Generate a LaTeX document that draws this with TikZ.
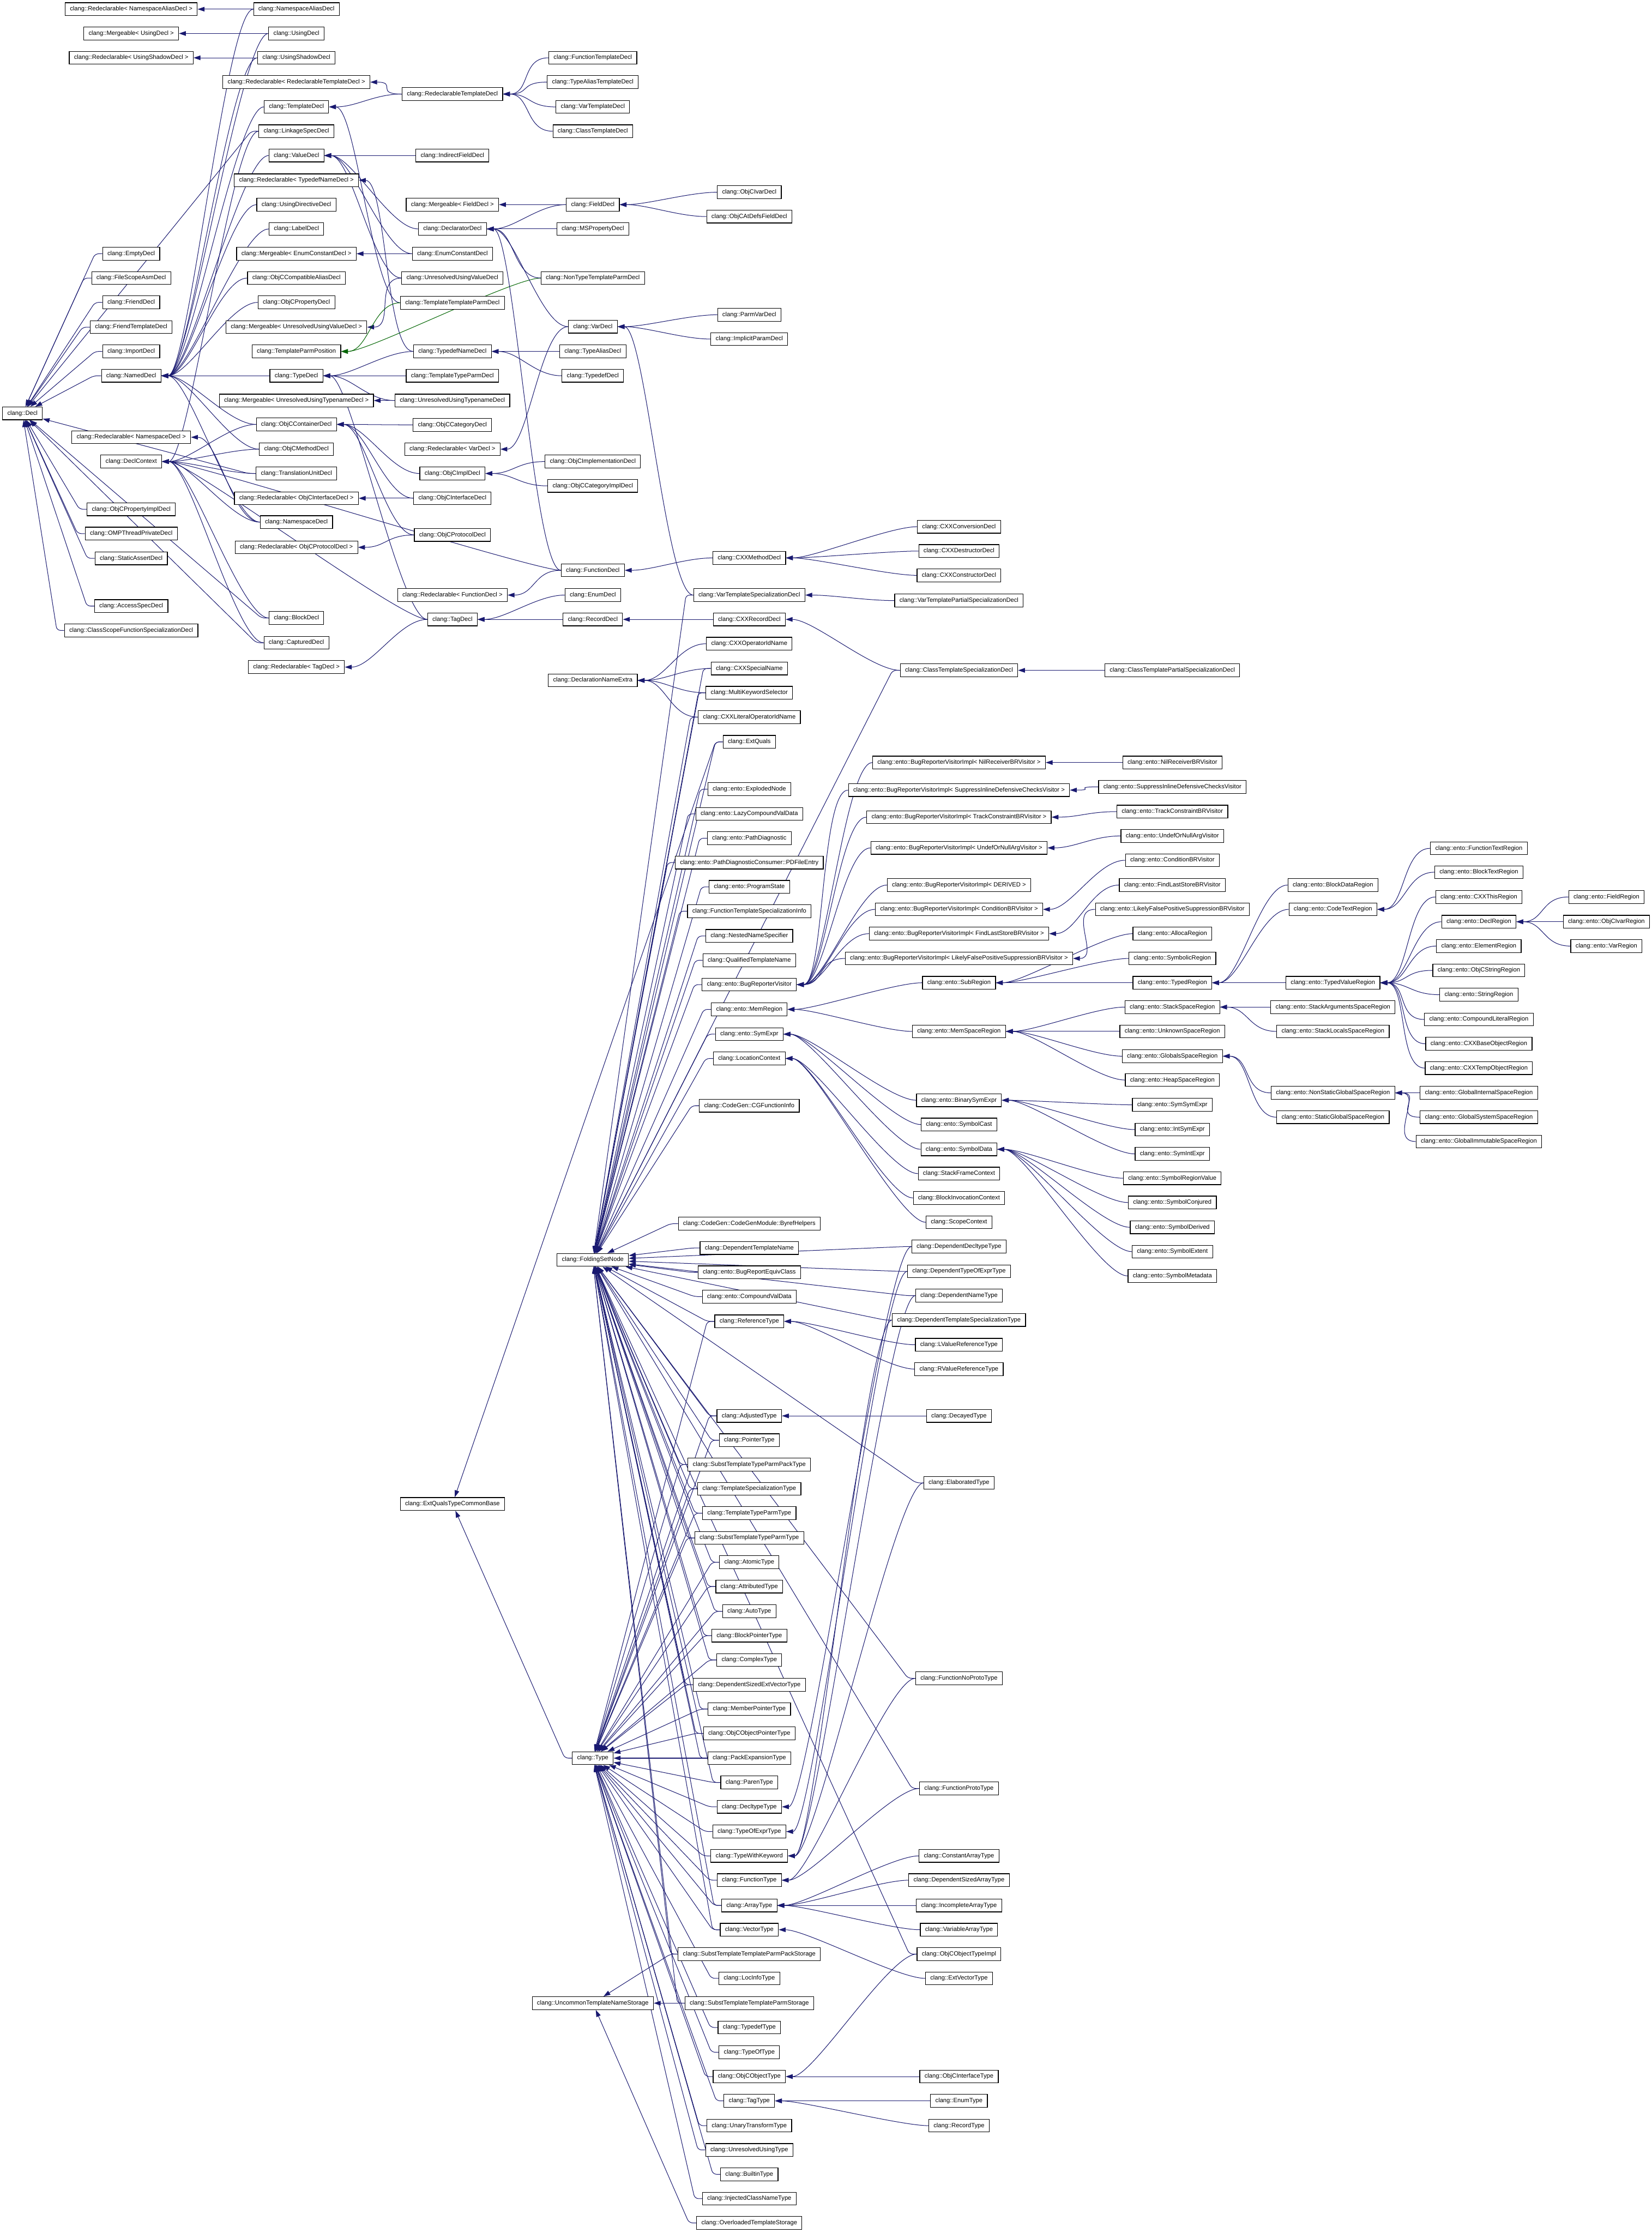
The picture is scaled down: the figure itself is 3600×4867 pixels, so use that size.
\documentclass[tikz,border=0pt]{standalone}
\usepackage{fontspec}
\setmainfont{Liberation Sans}
\usetikzlibrary{arrows.meta}
\definecolor{edgeblue}{HTML}{191970}
\definecolor{edgegreen}{HTML}{006400}
\pgfdeclarelayer{back}
\pgfsetlayers{back,main}
\tikzset{
  cls/.style={draw=black,fill=white,line width=1.4pt,minimum height=28pt,
    inner xsep=10.5pt,inner ysep=0pt,font=\fontsize{13.3}{16}\selectfont},
  inh/.style={draw=edgeblue,line width=1.2pt,-{Triangle[length=15pt,width=10pt]},
    to path={.. controls +(-60,0) and +(60,0) .. (\tikztotarget)}},
  hub/.style={inh,rounded corners=8pt,to path={-- ++(-16,0) -- (\tikztotarget)}},
  inhprot/.style={inh,draw=edgegreen},
}
\begin{document}
\begin{tikzpicture}[x=1pt,y=-1pt]
  \useasboundingbox (0,0) rectangle (3600,4867);
  % column A / B
  \node[cls] (Decl) at (49,901) {clang::Decl};
  \node[cls] (RdNamespaceAlias) at (286,20) {clang::Redeclarable< NamespaceAliasDecl >};
  \node[cls] (MgUsing) at (286,73) {clang::Mergeable< UsingDecl >};
  \node[cls] (RdUsingShadow) at (286,126) {clang::Redeclarable< UsingShadowDecl >};
  \node[cls] (RdNamespace) at (286,953) {clang::Redeclarable< NamespaceDecl >};
  \foreach \nm/\yy in {EmptyDecl/553,FileScopeAsmDecl/606,FriendDecl/659,FriendTemplateDecl/713,
      ImportDecl/766,NamedDecl/819,DeclContext/1006,ObjCPropertyImplDecl/1110,OMPThreadPrivateDecl/1163,
      StaticAssertDecl/1217,AccessSpecDecl/1321,ClassScopeFunctionSpecializationDecl/1374}
    \node[cls] (\nm) at (286,\yy) {clang::\nm};
  % column C
  \foreach \nm/\yy in {NamespaceAliasDecl/20,UsingDecl/73,UsingShadowDecl/126,TemplateDecl/233,
      LinkageSpecDecl/286,ValueDecl/339,UsingDirectiveDecl/446,LabelDecl/499,ObjCCompatibleAliasDecl/606,
      ObjCPropertyDecl/659,TemplateParmPosition/766,TypeDecl/819,ObjCContainerDecl/925,ObjCMethodDecl/979,
      TranslationUnitDecl/1032,NamespaceDecl/1138,BlockDecl/1347,CapturedDecl/1401}
    \node[cls] (\nm) at (646,\yy) {clang::\nm};
  \node[cls] (RdRedeclTemplate) at (646,179) {clang::Redeclarable< RedeclarableTemplateDecl >};
  \node[cls] (RdTypedefName) at (646,393) {clang::Redeclarable< TypedefNameDecl >};
  \node[cls] (MgEnumConstant) at (646,553) {clang::Mergeable< EnumConstantDecl >};
  \node[cls] (MgUnresolvedUsingValue) at (646,713) {clang::Mergeable< UnresolvedUsingValueDecl >};
  \node[cls] (MgUnresolvedUsingTypename) at (646,873) {clang::Mergeable< UnresolvedUsingTypenameDecl >};
  \node[cls] (RdObjCInterface) at (646,1086) {clang::Redeclarable< ObjCInterfaceDecl >};
  \node[cls] (RdObjCProtocol) at (646,1193) {clang::Redeclarable< ObjCProtocolDecl >};
  \node[cls] (RdTag) at (646,1454) {clang::Redeclarable< TagDecl >};
  % column D
  \foreach \nm/\yy in {RedeclarableTemplateDecl/205,IndirectFieldDecl/339,DeclaratorDecl/499,
      EnumConstantDecl/553,UnresolvedUsingValueDecl/606,TemplateTemplateParmDecl/660,TypedefNameDecl/766,
      TemplateTypeParmDecl/819,UnresolvedUsingTypenameDecl/873,ObjCCategoryDecl/926,ObjCImplDecl/1032,
      ObjCInterfaceDecl/1086,ObjCProtocolDecl/1166,TagDecl/1350,ExtQualsTypeCommonBase/3278}
    \node[cls] (\nm) at (986,\yy) {clang::\nm};
  \node[cls] (MgField) at (986,446) {clang::Mergeable< FieldDecl >};
  \node[cls] (RdVar) at (986,979) {clang::Redeclarable< VarDecl >};
  \node[cls] (RdFunction) at (986,1297) {clang::Redeclarable< FunctionDecl >};
  % column E
  \foreach \nm/\yy in {FunctionTemplateDecl/126,TypeAliasTemplateDecl/179,VarTemplateDecl/233,
      ClassTemplateDecl/286,FieldDecl/446,MSPropertyDecl/499,NonTypeTemplateParmDecl/606,VarDecl/712,
      TypeAliasDecl/766,TypedefDecl/819,ObjCImplementationDecl/1006,ObjCCategoryImplDecl/1059,
      FunctionDecl/1243,EnumDecl/1297,RecordDecl/1350,DeclarationNameExtra/1483,FoldingSetNode/2746,
      Type/3832,UncommonTemplateNameStorage/4366}
    \node[cls] (\nm) at (1292,\yy) {clang::\nm};
  % column F
  \foreach \nm/\yy in {ObjCIvarDecl/419,ObjCAtDefsFieldDecl/472,ParmVarDecl/686,ImplicitParamDecl/739,
      CXXMethodDecl/1216,VarTemplateSpecializationDecl/1297,CXXRecordDecl/1350,CXXOperatorIdName/1403,
      CXXSpecialName/1457,MultiKeywordSelector/1510,CXXLiteralOperatorIdName/1563,ExtQuals/1617,
      FunctionTemplateSpecializationInfo/1986,NestedNameSpecifier/2040,QualifiedTemplateName/2093,
      LocationContext/2307,DependentTemplateName/2720,ReferenceType/2880,AdjustedType/3086,
      PointerType/3139,SubstTemplateTypeParmPackType/3192,TemplateSpecializationType/3245,
      TemplateTypeParmType/3298,SubstTemplateTypeParmType/3352,AtomicType/3405,AttributedType/3458,
      AutoType/3512,BlockPointerType/3565,ComplexType/3618,DependentSizedExtVectorType/3672,
      MemberPointerType/3725,ObjCObjectPointerType/3778,PackExpansionType/3832,ParenType/3885,
      DecltypeType/3938,TypeOfExprType/3992,TypeWithKeyword/4045,FunctionType/4098,ArrayType/4153,
      VectorType/4206,SubstTemplateTemplateParmPackStorage/4259,LocInfoType/4312,
      SubstTemplateTemplateParmStorage/4366,TypedefType/4419,TypeOfType/4473,ObjCObjectType/4526,
      TagType/4579,UnaryTransformType/4633,UnresolvedUsingType/4686,BuiltinType/4739,
      InjectedClassNameType/4792,OverloadedTemplateStorage/4845}
    \node[cls] (\nm) at (1633,\yy) {clang::\nm};
  \foreach \nm/\yy in {ExplodedNode/1720,LazyCompoundValData/1774,PathDiagnostic/1827,ProgramState/1933,
      BugReporterVisitor/2146,MemRegion/2200,SymExpr/2254,BugReportEquivClass/2773,CompoundValData/2826}
    \node[cls] (\nm) at (1633,\yy) {clang::ento::\nm};
  \node[cls] (PDFileEntry) at (1633,1880) {clang::ento::PathDiagnosticConsumer::PDFileEntry};
  \node[cls] (CGFunctionInfo) at (1633,2410) {clang::CodeGen::CGFunctionInfo};
  \node[cls] (ByrefHelpers) at (1633,2667) {clang::CodeGen::CodeGenModule::ByrefHelpers};
  % column G
  \foreach \nm/\yy in {CXXConversionDecl/1148,CXXDestructorDecl/1201,CXXConstructorDecl/1254,
      VarTemplatePartialSpecializationDecl/1309,ClassTemplateSpecializationDecl/1461,
      StackFrameContext/2558,BlockInvocationContext/2611,ScopeContext/2664,DependentDecltypeType/2717,
      DependentTypeOfExprType/2771,DependentNameType/2824,DependentTemplateSpecializationType/2877,
      LValueReferenceType/2931,RValueReferenceType/2984,DecayedType/3086,ElaboratedType/3232,
      FunctionNoProtoType/3658,FunctionProtoType/3898,ConstantArrayType/4045,DependentSizedArrayType/4098,
      IncompleteArrayType/4153,VariableArrayType/4206,ObjCObjectTypeImpl/4259,ExtVectorType/4312,
      ObjCInterfaceType/4526,EnumType/4579,RecordType/4633}
    \node[cls] (\nm) at (2090,\yy) {clang::\nm};
  \foreach \nm/\yy in {SubRegion/2142,MemSpaceRegion/2248,BinarySymExpr/2398,SymbolCast/2451,SymbolData/2505}
    \node[cls] (\nm) at (2090,\yy) {clang::ento::\nm};
  \foreach \nm/\arg/\yy in {BRVINilReceiver/NilReceiverBRVisitor/1662,
      BRVISuppress/SuppressInlineDefensiveChecksVisitor/1722,BRVITrack/TrackConstraintBRVisitor/1781,
      BRVIUndef/UndefOrNullArgVisitor/1848,BRVIDerived/DERIVED/1929,BRVICondition/ConditionBRVisitor/1982,
      BRVIFindLastStore/FindLastStoreBRVisitor/2035,BRVILikelyFalse/LikelyFalsePositiveSuppressionBRVisitor/2089}
    \node[cls] (\nm) at (2090,\yy) {clang::ento::BugReporterVisitorImpl< \arg{} >};
  % column H
  \node[cls] (ClassTemplatePartialSpecializationDecl) at (2555,1461) {clang::ClassTemplatePartialSpecializationDecl};
  \foreach \nm/\yy in {NilReceiverBRVisitor/1662,SuppressInlineDefensiveChecksVisitor/1715,
      TrackConstraintBRVisitor/1769,UndefOrNullArgVisitor/1822,ConditionBRVisitor/1875,
      FindLastStoreBRVisitor/1929,LikelyFalsePositiveSuppressionBRVisitor/1982,AllocaRegion/2035,
      SymbolicRegion/2089,TypedRegion/2142,StackSpaceRegion/2195,UnknownSpaceRegion/2248,
      GlobalsSpaceRegion/2302,HeapSpaceRegion/2354,SymSymExpr/2408,IntSymExpr/2462,SymIntExpr/2515,
      SymbolRegionValue/2568,SymbolConjured/2621,SymbolDerived/2675,SymbolExtent/2728,SymbolMetadata/2781}
    \node[cls] (\nm) at (2555,\yy) {clang::ento::\nm};
  % columns I, J, K
  \foreach \nm/\yy in {BlockDataRegion/1929,CodeTextRegion/1982,TypedValueRegion/2142,
      StackArgumentsSpaceRegion/2195,StackLocalsSpaceRegion/2248,NonStaticGlobalSpaceRegion/2382,
      StaticGlobalSpaceRegion/2435}
    \node[cls] (\nm) at (2905,\yy) {clang::ento::\nm};
  \foreach \nm/\yy in {FunctionTextRegion/1849,BlockTextRegion/1901,CXXThisRegion/1955,DeclRegion/2009,
      ElementRegion/2062,ObjCStringRegion/2115,StringRegion/2168,CompoundLiteralRegion/2222,
      CXXBaseObjectRegion/2275,CXXTempObjectRegion/2328,GlobalInternalSpaceRegion/2382,
      GlobalSystemSpaceRegion/2435,GlobalImmutableSpaceRegion/2488}
    \node[cls] (\nm) at (3223,\yy) {clang::ento::\nm};
  \foreach \nm/\yy in {FieldRegion/1955,ObjCIvarRegion/2009,VarRegion/2062}
    \node[cls] (\nm) at (3501,\yy) {clang::ento::\nm};

  \begin{pgfonlayer}{back}
    % decls
    \foreach \kid in {EmptyDecl,FileScopeAsmDecl,FriendDecl,FriendTemplateDecl,ImportDecl,NamedDecl,
        LinkageSpecDecl,TranslationUnitDecl,ObjCPropertyImplDecl,OMPThreadPrivateDecl,StaticAssertDecl,
        AccessSpecDecl,ClassScopeFunctionSpecializationDecl,BlockDecl,CapturedDecl}
      \draw[hub] (\kid.west) to (Decl);
    \foreach \kid in {NamespaceAliasDecl,UsingDecl,UsingShadowDecl,TemplateDecl,ValueDecl,
        UsingDirectiveDecl,LabelDecl,ObjCCompatibleAliasDecl,ObjCPropertyDecl,TypeDecl,ObjCContainerDecl,
        ObjCMethodDecl,NamespaceDecl}
      \draw[inh] (\kid.west) to (NamedDecl.east);
    \foreach \kid in {LinkageSpecDecl,ObjCContainerDecl,ObjCMethodDecl,TranslationUnitDecl,NamespaceDecl,
        BlockDecl,CapturedDecl,FunctionDecl,TagDecl}
      \draw[inh] (\kid.west) to (DeclContext.east);
    \foreach \kid/\base in {NamespaceAliasDecl/RdNamespaceAlias,UsingDecl/MgUsing,
        UsingShadowDecl/RdUsingShadow,NamespaceDecl/RdNamespace,RedeclarableTemplateDecl/RdRedeclTemplate,
        RedeclarableTemplateDecl/TemplateDecl,TemplateTemplateParmDecl/TemplateDecl,
        TypedefNameDecl/RdTypedefName,EnumConstantDecl/MgEnumConstant,
        UnresolvedUsingValueDecl/MgUnresolvedUsingValue,UnresolvedUsingTypenameDecl/MgUnresolvedUsingTypename,
        ObjCInterfaceDecl/RdObjCInterface,ObjCProtocolDecl/RdObjCProtocol,TagDecl/RdTag,VarDecl/RdVar,
        FunctionDecl/RdFunction,FieldDecl/MgField}
      \draw[inh] (\kid.west) to (\base.east);
    \foreach \kid in {IndirectFieldDecl,DeclaratorDecl,EnumConstantDecl,UnresolvedUsingValueDecl}
      \draw[inh] (\kid.west) to (ValueDecl.east);
    \foreach \kid in {NonTypeTemplateParmDecl,TemplateTemplateParmDecl}
      \draw[inhprot] (\kid.west) to (TemplateParmPosition.east);
    \foreach \kid in {TypedefNameDecl,TemplateTypeParmDecl,UnresolvedUsingTypenameDecl,TagDecl}
      \draw[inh] (\kid.west) to (TypeDecl.east);
    \foreach \kid in {ObjCCategoryDecl,ObjCImplDecl,ObjCInterfaceDecl,ObjCProtocolDecl}
      \draw[inh] (\kid.west) to (ObjCContainerDecl.east);
    \foreach \kid in {FunctionTemplateDecl,TypeAliasTemplateDecl,VarTemplateDecl,ClassTemplateDecl}
      \draw[inh] (\kid.west) to (RedeclarableTemplateDecl.east);
    \foreach \kid in {FieldDecl,MSPropertyDecl,NonTypeTemplateParmDecl,VarDecl,FunctionDecl}
      \draw[inh] (\kid.west) to (DeclaratorDecl.east);
    \foreach \kid/\base in {TypeAliasDecl/TypedefNameDecl,TypedefDecl/TypedefNameDecl,
        ObjCImplementationDecl/ObjCImplDecl,ObjCCategoryImplDecl/ObjCImplDecl,EnumDecl/TagDecl,
        RecordDecl/TagDecl,ObjCIvarDecl/FieldDecl,ObjCAtDefsFieldDecl/FieldDecl,ParmVarDecl/VarDecl,
        ImplicitParamDecl/VarDecl,VarTemplateSpecializationDecl/VarDecl,CXXMethodDecl/FunctionDecl,
        CXXRecordDecl/RecordDecl,CXXConversionDecl/CXXMethodDecl,CXXDestructorDecl/CXXMethodDecl,
        CXXConstructorDecl/CXXMethodDecl,VarTemplatePartialSpecializationDecl/VarTemplateSpecializationDecl,
        ClassTemplateSpecializationDecl/CXXRecordDecl,
        ClassTemplatePartialSpecializationDecl/ClassTemplateSpecializationDecl}
      \draw[inh] (\kid.west) to (\base.east);
    \foreach \kid in {CXXOperatorIdName,CXXSpecialName,MultiKeywordSelector,CXXLiteralOperatorIdName}
      \draw[inh] (\kid.west) to (DeclarationNameExtra.east);
    % folding set nodes
    \foreach \kid in {VarTemplateSpecializationDecl,CXXSpecialName,MultiKeywordSelector,
        CXXLiteralOperatorIdName,ExtQuals,ExplodedNode,LazyCompoundValData,PathDiagnostic,PDFileEntry,
        ProgramState,FunctionTemplateSpecializationInfo,NestedNameSpecifier,QualifiedTemplateName,
        BugReporterVisitor,MemRegion,SymExpr,LocationContext,CGFunctionInfo,ByrefHelpers,
        DependentTemplateName,BugReportEquivClass,CompoundValData,ReferenceType,AdjustedType,PointerType,
        SubstTemplateTypeParmPackType,TemplateSpecializationType,TemplateTypeParmType,
        SubstTemplateTypeParmType,AtomicType,AttributedType,AutoType,BlockPointerType,ComplexType,
        DependentSizedExtVectorType,MemberPointerType,ObjCObjectPointerType,PackExpansionType,ParenType,
        ArrayType,VectorType,SubstTemplateTemplateParmPackStorage,SubstTemplateTemplateParmStorage,
        ClassTemplateSpecializationDecl,DependentDecltypeType,DependentTypeOfExprType,DependentNameType,
        DependentTemplateSpecializationType,ElaboratedType,FunctionNoProtoType,FunctionProtoType,
        ObjCObjectTypeImpl}
      \draw[hub] (\kid.west) to (FoldingSetNode);
    % types
    \foreach \kid in {ReferenceType,AdjustedType,PointerType,SubstTemplateTypeParmPackType,
        TemplateSpecializationType,TemplateTypeParmType,SubstTemplateTypeParmType,AtomicType,AttributedType,
        AutoType,BlockPointerType,ComplexType,DependentSizedExtVectorType,MemberPointerType,
        ObjCObjectPointerType,PackExpansionType,ParenType,DecltypeType,TypeOfExprType,TypeWithKeyword,
        FunctionType,ArrayType,VectorType,LocInfoType,TypedefType,TypeOfType,ObjCObjectType,TagType,
        UnaryTransformType,UnresolvedUsingType,BuiltinType,InjectedClassNameType}
      \draw[hub] (\kid.west) to (Type);
    \foreach \kid in {ExtQuals,Type}
      \draw[hub] (\kid.west) to (ExtQualsTypeCommonBase);
    \foreach \kid in {SubstTemplateTemplateParmPackStorage,SubstTemplateTemplateParmStorage,
        OverloadedTemplateStorage}
      \draw[hub] (\kid.west) to (UncommonTemplateNameStorage);
    \foreach \kid/\base in {LValueReferenceType/ReferenceType,RValueReferenceType/ReferenceType,
        DecayedType/AdjustedType,DependentDecltypeType/DecltypeType,DependentTypeOfExprType/TypeOfExprType,
        DependentNameType/TypeWithKeyword,DependentTemplateSpecializationType/TypeWithKeyword,
        ElaboratedType/TypeWithKeyword,FunctionNoProtoType/FunctionType,FunctionProtoType/FunctionType,
        ConstantArrayType/ArrayType,DependentSizedArrayType/ArrayType,IncompleteArrayType/ArrayType,
        VariableArrayType/ArrayType,ExtVectorType/VectorType,ObjCObjectTypeImpl/ObjCObjectType,
        ObjCInterfaceType/ObjCObjectType,EnumType/TagType,RecordType/TagType}
      \draw[inh] (\kid.west) to (\base.east);
    % static analyzer
    \foreach \kid in {BRVINilReceiver,BRVISuppress,BRVITrack,BRVIUndef,BRVIDerived,BRVICondition,
        BRVIFindLastStore,BRVILikelyFalse}
      \draw[inh] (\kid.west) to (BugReporterVisitor.east);
    \foreach \kid/\base in {NilReceiverBRVisitor/BRVINilReceiver,SuppressInlineDefensiveChecksVisitor/BRVISuppress,
        TrackConstraintBRVisitor/BRVITrack,UndefOrNullArgVisitor/BRVIUndef,ConditionBRVisitor/BRVICondition,
        FindLastStoreBRVisitor/BRVIFindLastStore,LikelyFalsePositiveSuppressionBRVisitor/BRVILikelyFalse,
        SubRegion/MemRegion,MemSpaceRegion/MemRegion,AllocaRegion/SubRegion,SymbolicRegion/SubRegion,
        TypedRegion/SubRegion,BlockDataRegion/TypedRegion,CodeTextRegion/TypedRegion,
        TypedValueRegion/TypedRegion,FunctionTextRegion/CodeTextRegion,BlockTextRegion/CodeTextRegion,
        FieldRegion/DeclRegion,ObjCIvarRegion/DeclRegion,VarRegion/DeclRegion,
        StackSpaceRegion/MemSpaceRegion,UnknownSpaceRegion/MemSpaceRegion,GlobalsSpaceRegion/MemSpaceRegion,
        HeapSpaceRegion/MemSpaceRegion,StackArgumentsSpaceRegion/StackSpaceRegion,
        StackLocalsSpaceRegion/StackSpaceRegion,NonStaticGlobalSpaceRegion/GlobalsSpaceRegion,
        StaticGlobalSpaceRegion/GlobalsSpaceRegion,GlobalInternalSpaceRegion/NonStaticGlobalSpaceRegion,
        GlobalSystemSpaceRegion/NonStaticGlobalSpaceRegion,GlobalImmutableSpaceRegion/NonStaticGlobalSpaceRegion,
        BinarySymExpr/SymExpr,SymbolCast/SymExpr,SymbolData/SymExpr,SymSymExpr/BinarySymExpr,
        IntSymExpr/BinarySymExpr,SymIntExpr/BinarySymExpr,StackFrameContext/LocationContext,
        BlockInvocationContext/LocationContext,ScopeContext/LocationContext}
      \draw[inh] (\kid.west) to (\base.east);
    \foreach \kid in {CXXThisRegion,DeclRegion,ElementRegion,ObjCStringRegion,StringRegion,
        CompoundLiteralRegion,CXXBaseObjectRegion,CXXTempObjectRegion}
      \draw[inh] (\kid.west) to (TypedValueRegion.east);
    \foreach \kid in {SymbolRegionValue,SymbolConjured,SymbolDerived,SymbolExtent,SymbolMetadata}
      \draw[inh] (\kid.west) to (SymbolData.east);
  \end{pgfonlayer}
\end{tikzpicture}
\end{document}
